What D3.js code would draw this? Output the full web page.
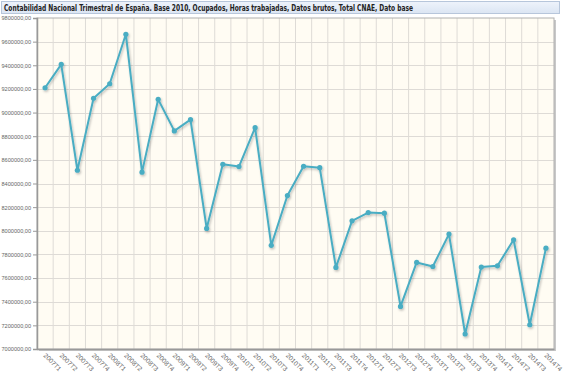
<!DOCTYPE html>
<html>
<head>
<meta charset="utf-8">
<script src="https://cdn.jsdelivr.net/npm/d3@7"></script>
<style>
  body { margin: 0; background: #fff; }
  svg { display: block; }
  .tick text { font-family: "Liberation Sans", sans-serif; fill: #666; }
</style>
</head>
<body>
<div id="chart"></div>
<script>
var title = 'Contabilidad Nacional Trimestral de España. Base 2010, Ocupados, Horas trabajadas, Datos brutos, Total CNAE, Dato base'

var quarters = [
  '2007T1', '2007T2', '2007T3', '2007T4', '2008T1', '2008T2', '2008T3', '2008T4',
  '2009T1', '2009T2', '2009T3', '2009T4', '2010T1', '2010T2', '2010T3', '2010T4',
  '2011T1', '2011T2', '2011T3', '2011T4', '2012T1', '2012T2', '2012T3', '2012T4',
  '2013T1', '2013T2', '2013T3', '2013T4', '2014T1', '2014T2', '2014T3', '2014T4'
]

var hours = [
  9210000, 9408000, 8512000, 9121000, 9244000, 9662000, 8496000, 9112000,
  8845000, 8940000, 8020000, 8563000, 8543000, 8872000, 7877000, 8298000,
  8546000, 8534000, 7690000, 8084000, 8154000, 8149000, 7360000, 7732000,
  7698000, 7972000, 7127000, 7693000, 7704000, 7924000, 7205000, 7853000
]

var yTicks = [
  7000000, 7200000, 7400000, 7600000, 7800000, 8000000, 8200000,
  8400000, 8600000, 8800000, 9000000, 9200000, 9400000, 9600000, 9800000
]

var width = 580
var height = 385
var margin = { top: 18, right: 26, bottom: 36, left: 37 }
var innerW = width - margin.left - margin.right
var innerH = height - margin.top - margin.bottom

var svg = d3.select('#chart').append('svg')
  .attr('width', width)
  .attr('height', height)

var defs = svg.append('defs')
var grad = defs.append('linearGradient')
  .attr('id', 'titleGrad')
  .attr('x1', 0).attr('y1', 0).attr('x2', 0).attr('y2', 1)
grad.append('stop').attr('offset', '0%').attr('stop-color', '#eef3fb')
grad.append('stop').attr('offset', '100%').attr('stop-color', '#dbe5f3')

var shadow = defs.append('filter').attr('id', 'lineShadow')
  .attr('x', '-5%').attr('y', '-5%').attr('width', '110%').attr('height', '110%')
shadow.append('feDropShadow')
  .attr('dx', 1).attr('dy', 1.5).attr('stdDeviation', 0.8)
  .attr('flood-color', '#000').attr('flood-opacity', 0.25)

// title box
svg.append('rect')
  .attr('x', 1.5).attr('y', 1.5)
  .attr('width', 558).attr('height', 12)
  .attr('fill', 'url(#titleGrad)')
  .attr('stroke', '#b7c6db')
svg.append('text')
  .attr('x', 4).attr('y', 10.6)
  .attr('font-family', '"DejaVu Sans", sans-serif')
  .attr('font-weight', 'bold')
  .attr('font-size', '8.3px')
  .attr('fill', '#222')
  .attr('textLength', 409)
  .attr('lengthAdjust', 'spacingAndGlyphs')
  .text(title)

var g = svg.append('g')
  .attr('transform', 'translate(' + margin.left + ',' + margin.top + ')')

var x = d3.scaleBand().domain(quarters).range([0, innerW])
var y = d3.scaleLinear().domain([7000000, 9800000]).range([innerH, 0])

// plot frame shadow and background
g.append('rect')
  .attr('x', 2).attr('y', 2)
  .attr('width', innerW).attr('height', innerH)
  .attr('fill', '#c8c8c8')
g.append('rect')
  .attr('width', innerW).attr('height', innerH)
  .attr('fill', '#fffcf3')

// grid
g.append('g').selectAll('line.v')
  .data(quarters.slice(1))
  .enter().append('line')
  .attr('x1', function (d) { return x(d) }).attr('x2', function (d) { return x(d) })
  .attr('y1', 0).attr('y2', innerH)
  .attr('stroke', '#dedbd6').attr('stroke-width', 1)
g.append('g').selectAll('line.h')
  .data(yTicks.slice(1, -1))
  .enter().append('line')
  .attr('x1', 0).attr('x2', innerW)
  .attr('y1', function (d) { return Math.round(y(d)) + 0.5 })
  .attr('y2', function (d) { return Math.round(y(d)) + 0.5 })
  .attr('stroke', '#dedbd6').attr('stroke-width', 1)

g.append('rect')
  .attr('width', innerW).attr('height', innerH)
  .attr('fill', 'none')
  .attr('stroke', '#b0b0b0')

// axes
var fmt = function (d) { return d3.format('.2f')(d).replace('.', ',') }
var yAxis = g.append('g')
  .call(d3.axisLeft(y).tickValues(yTicks).tickFormat(fmt).tickSize(4).tickPadding(2))
yAxis.select('.domain').attr('stroke', '#999').attr('stroke-width', 1.5)
yAxis.selectAll('.tick line').attr('stroke', '#999')
yAxis.selectAll('.tick text')
  .attr('font-size', '6px')
  .attr('textLength', 29.5)
  .attr('lengthAdjust', 'spacingAndGlyphs')

var xAxis = g.append('g')
  .attr('transform', 'translate(0,' + innerH + ')')
  .call(d3.axisBottom(x).tickSize(0).tickPadding(0))
xAxis.select('.domain').attr('stroke', '#999').attr('stroke-width', 1.5)
xAxis.selectAll('.tick text')
  .attr('font-size', '6.5px')
  .attr('text-anchor', 'start')
  .attr('dy', 0)
  .attr('transform', 'translate(-2,7) rotate(45)')

// series
var line = d3.line()
  .x(function (d, i) { return x(quarters[i]) + x.bandwidth() / 2 })
  .y(function (d) { return y(d) })

var series = g.append('g').attr('filter', 'url(#lineShadow)')
series.append('path')
  .datum(hours)
  .attr('d', line)
  .attr('fill', 'none')
  .attr('stroke', '#4aadc3')
  .attr('stroke-width', 2)
  .attr('stroke-linejoin', 'round')
series.selectAll('circle')
  .data(hours)
  .enter().append('circle')
  .attr('cx', function (d, i) { return x(quarters[i]) + x.bandwidth() / 2 })
  .attr('cy', function (d) { return y(d) })
  .attr('r', 2.6)
  .attr('fill', '#4aadc3')
</script>
</body>
</html>
